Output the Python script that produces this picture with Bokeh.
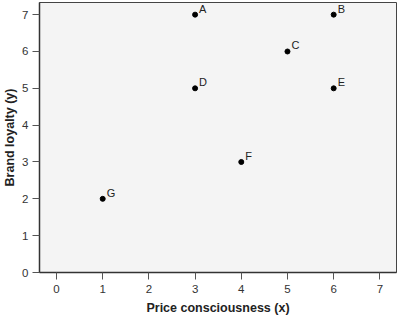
from bokeh.plotting import figure
from bokeh.models import ColumnDataSource, Range1d, FixedTicker
from bokeh.core.properties import value
from bokeh.embed import file_html
from bokeh.resources import INLINE

labels = ["A", "B", "C", "D", "E", "F", "G"]
price = [3, 6, 5, 3, 6, 4, 1]
loyalty = [7, 7, 6, 5, 5, 3, 2]
x_ticks = [0, 1, 2, 3, 4, 5, 6, 7]
y_ticks = [0, 1, 2, 3, 4, 5, 6, 7]

src = ColumnDataSource(dict(x=price, y=loyalty, label=labels))

FONT = "Liberation Sans"

p = figure(width=400, height=327, output_backend="svg", toolbar_location=None,
           x_range=Range1d(-0.368, 7.36), y_range=Range1d(0, 7.33),
           min_border_left=39, min_border_right=4, min_border_top=2, min_border_bottom=55)
p.frame_width = 357
p.frame_height = 270

p.background_fill_color = "#f4f4f4"
p.border_fill_color = "white"
p.outline_line_color = "#444444"
p.outline_line_width = 1
p.grid.visible = False

for ax, ticks in ((p.xaxis, x_ticks), (p.yaxis, y_ticks)):
    ax.ticker = FixedTicker(ticks=ticks)
    ax.minor_tick_line_color = None
    ax.major_tick_in = 0
    ax.major_tick_out = 7
    ax.major_tick_line_color = "#555555"
    ax.axis_line_color = "#333333"
    ax.axis_line_width = 1.5
    ax.major_label_text_font = FONT
    ax.major_label_text_font_size = "11.5px"
    ax.major_label_text_color = "#333333"
    ax.axis_label_text_font = FONT
    ax.axis_label_text_font_size = "12.5px"
    ax.axis_label_text_font_style = "bold"
    ax.axis_label_text_color = "#222222"
    ax.major_label_standoff = 5

p.yaxis.major_label_standoff = 4
p.xaxis.axis_label = "Price consciousness (x)"
p.yaxis.axis_label = "Brand loyalty (y)"
p.xaxis.axis_label_standoff = 5
p.yaxis.axis_label_standoff = 2

p.scatter("x", "y", source=src, size=5, color="black")
p.text("x", "y", text="label", source=src, x_offset=4, y_offset=0,
       text_font=value(FONT), text_font_size="11px", text_color="#222222",
       text_baseline="bottom", text_align="left")

open("out.html", "w").write(file_html(p, INLINE))
